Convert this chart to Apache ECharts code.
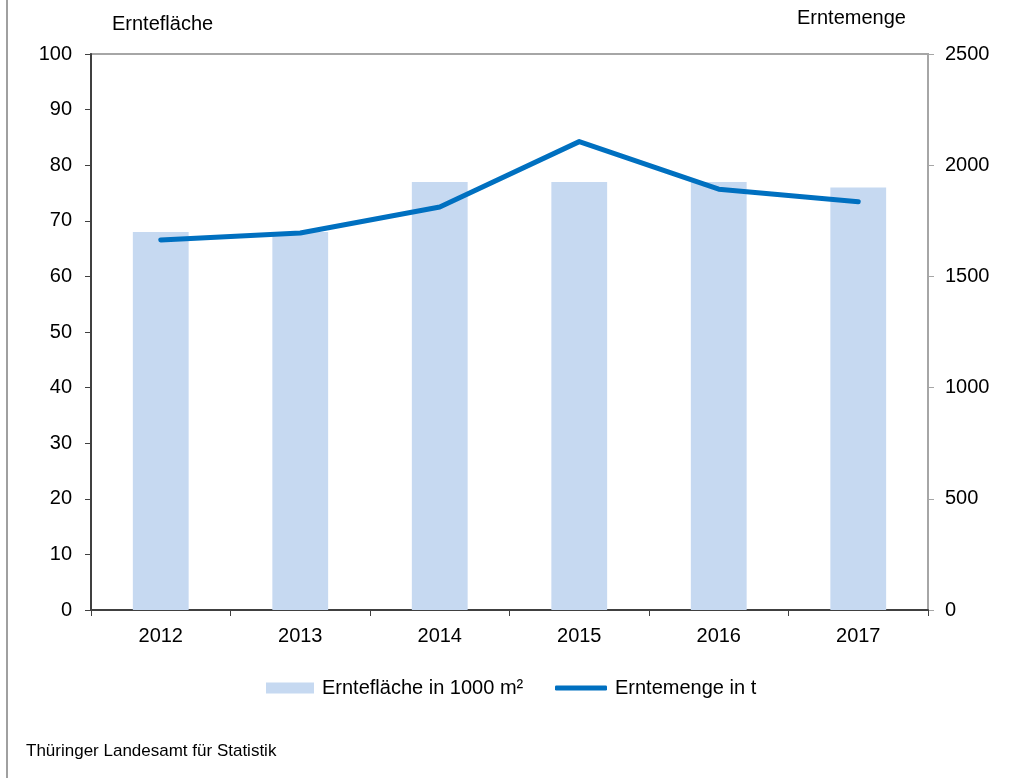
<!DOCTYPE html>
<html>
<head>
<meta charset="utf-8">
<script src="https://cdn.jsdelivr.net/npm/echarts@6/dist/echarts.min.js"></script>
<style>
  html, body { margin: 0; padding: 0; background: #fff; }
  #chart { width: 1014px; height: 778px; }
</style>
</head>
<body>
<div id="chart"></div>
<script>
// Daten
const years = ['2012', '2013', '2014', '2015', '2016', '2017'];
const flaeche = [68, 68, 77, 77, 77, 76];           // Erntefläche in 1000 m²
const menge = [1664, 1695, 1812, 2106, 1892, 1836]; // Erntemenge in t

const FONT = 'Liberation Sans, Arial, sans-serif';
const FS = 20;

const chart = echarts.init(document.getElementById('chart'));

const legendText = { fontFamily: FONT, fontSize: FS, color: '#000', padding: [0, 0, 0, 3] };

const option = {
  backgroundColor: '#fff',
  animation: false,
  textStyle: { fontFamily: FONT, color: '#000' },
  grid: {
    left: 91, right: 86, top: 54, bottom: 168,
    show: true, borderColor: '#a6a6a6', borderWidth: 2
  },
  graphic: [
    { type: 'line', shape: { x1: 7, y1: 0, x2: 7, y2: 778 }, style: { stroke: '#808080', lineWidth: 1.5 } },
    { type: 'text', left: 112, top: 14, style: { text: 'Erntefläche', font: FS + 'px ' + FONT, fill: '#000' } },
    { type: 'text', left: 797, top: 8, style: { text: 'Erntemenge', font: FS + 'px ' + FONT, fill: '#000' } },
    { type: 'text', left: 26, top: 743, style: { text: 'Thüringer Landesamt für Statistik', font: '17px ' + FONT, fill: '#000' } }
  ],
  legend: [
    {
      left: 266, top: 678, padding: 0,
      itemWidth: 48, itemHeight: 11,
      textStyle: legendText,
      data: [{ name: 'Erntefläche in 1000 m²', icon: 'rect' }]
    },
    {
      left: 555, top: 678, padding: 0,
      itemWidth: 52, itemHeight: 5,
      textStyle: legendText,
      data: [{ name: 'Erntemenge in t', icon: 'roundRect' }]
    }
  ],
  xAxis: {
    type: 'category',
    data: years,
    boundaryGap: true,
    axisLine: { lineStyle: { color: '#404040', width: 2 } },
    axisTick: { show: true, length: 6, lineStyle: { color: '#404040' } },
    axisLabel: { fontSize: FS, color: '#000', margin: 16 }
  },
  yAxis: [
    {
      type: 'value', min: 0, max: 100, interval: 10,
      axisLine: { show: true, lineStyle: { color: '#404040', width: 2 } },
      axisTick: { show: true, length: 6, lineStyle: { color: '#404040' } },
      axisLabel: { fontSize: FS, color: '#000', margin: 19 },
      splitLine: { show: false }
    },
    {
      type: 'value', min: 0, max: 2500, interval: 500,
      axisLine: { show: true, lineStyle: { color: '#a6a6a6', width: 2 } },
      axisTick: { show: true, length: 6, lineStyle: { color: '#a6a6a6' } },
      axisLabel: { fontSize: FS, color: '#000', margin: 17, formatter: v => String(v) },
      splitLine: { show: false }
    }
  ],
  series: [
    {
      name: 'Erntefläche in 1000 m²',
      type: 'bar',
      data: flaeche,
      yAxisIndex: 0,
      barWidth: '40%',
      itemStyle: { color: '#c6d9f1' }
    },
    {
      name: 'Erntemenge in t',
      type: 'line',
      data: menge,
      yAxisIndex: 1,
      symbol: 'none',
      lineStyle: { color: '#0070c0', width: 5, cap: 'round', join: 'round' },
      itemStyle: { color: '#0070c0' }
    }
  ]
};

chart.setOption(option);
</script>
</body>
</html>
